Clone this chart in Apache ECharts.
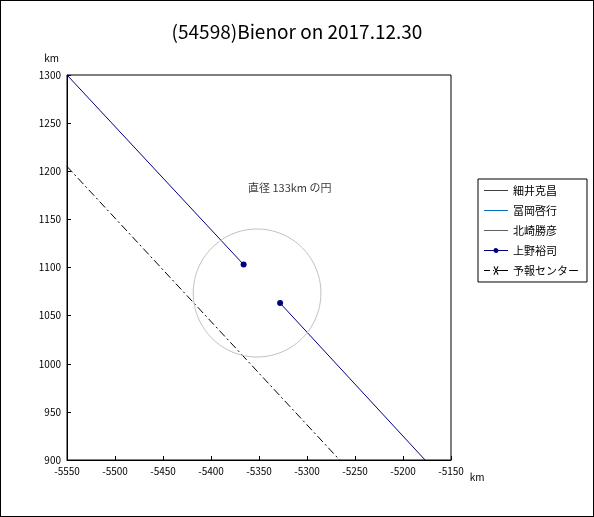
<!DOCTYPE html>
<html>
<head>
<meta charset="utf-8">
<script src="https://cdn.jsdelivr.net/npm/echarts@6/dist/echarts.min.js"></script>
<style>
html,body{margin:0;padding:0;background:#fff;}
#main{width:592px;height:515px;border:1px solid #000;}
</style>
</head>
<body>
<div id="main"></div>
<script>
var xTicks = [-5550, -5150];
var yTicks = [900, 1300];
// 上野裕司 (two segments)
var uenoA = [[-5550, 1300], [-5366, 1103]];
var uenoB = [[-5328, 1063], [-5177, 900]];
// 予報センター
var yohou = [[-5550, 1205], [-5266, 900]];
// 133km circle
var circleCenter = [-5352, 1073.5];
var circleRadius = 66.5;
var noteAt = [-5318, 1183];

var circle = [];
for (var i = 0; i <= 120; i++) {
	var a = i / 120 * Math.PI * 2;
	circle.push([circleCenter[0] + circleRadius * Math.cos(a), circleCenter[1] + circleRadius * Math.sin(a)]);
}

var lineIcon = 'path://M0,4.5H24V5.5H0Z';
var dotIcon = 'path://M0,4.5H9.5A2.6,2.6,0,0,1,14.5,4.5H24V5.5H14.5A2.6,2.6,0,0,1,9.5,5.5H0Z';
var dashIcon = 'path://M0,4.5H6V5.5H0ZM9,4.5H10V5.5H9ZM13,4.5H24V5.5H13ZM9.5,1.2L10.3,0.5L14.5,8.8L13.7,9.5ZM13.7,0.5L14.5,1.2L10.3,9.5L9.5,8.8Z';

var font = 'Noto Sans CJK JP';
var chart = echarts.init(document.getElementById('main'));
chart.setOption({
	animation: false,
	textStyle: { fontFamily: font },
	title: {
		text: '(54598)Bienor on 2017.12.30',
		left: 'center', top: 16,
		textStyle: { fontSize: 19, fontWeight: 'normal', color: '#000', fontFamily: font }
	},
	grid: { left: 66, right: 142, top: 74, bottom: 56, show: true, borderColor: '#000', borderWidth: 1 },
	legend: {
		orient: 'vertical', left: 477, top: 178,
		backgroundColor: '#fff', borderColor: '#000', borderWidth: 1,
		padding: [6, 8, 6, 6], itemGap: 9, itemWidth: 24, itemHeight: 10,
		textStyle: { fontSize: 11, color: '#000' },
		data: [
			{ name: '細井克昌', icon: lineIcon },
			{ name: '冨岡啓行', icon: lineIcon },
			{ name: '北崎勝彦', icon: lineIcon },
			{ name: '上野裕司', icon: dotIcon },
			{ name: '予報センター', icon: dashIcon }
		]
	},
	xAxis: {
		type: 'value', min: xTicks[0], max: xTicks[1], interval: 50,
		name: 'km', nameGap: 18, nameTextStyle: { fontSize: 10, verticalAlign: 'top', padding: [12, 0, 0, 0] },
		axisLine: { lineStyle: { color: '#000' } },
		axisTick: { inside: true, length: 4, lineStyle: { color: '#000' } },
		axisLabel: { fontSize: 10, color: '#000', margin: 6, formatter: function (v) { return String(v); } },
		splitLine: { show: false }
	},
	yAxis: {
		type: 'value', min: yTicks[0], max: yTicks[1], interval: 50,
		name: 'km', nameGap: 12, nameTextStyle: { fontSize: 10, align: 'right', padding: [0, 8, 0, 0] },
		axisLine: { lineStyle: { color: '#000' } },
		axisTick: { inside: true, length: 4, lineStyle: { color: '#000' } },
		axisLabel: { fontSize: 10, color: '#000', margin: 6, formatter: function (v) { return String(v); } },
		splitLine: { show: false }
	},
	series: [
		{ name: '細井克昌', type: 'line', data: [], symbol: 'none', lineStyle: { color: '#404040', width: 1 }, itemStyle: { color: '#404040' } },
		{ name: '冨岡啓行', type: 'line', data: [], symbol: 'none', lineStyle: { color: '#0070c0', width: 1 }, itemStyle: { color: '#0070c0' } },
		{ name: '北崎勝彦', type: 'line', data: [], symbol: 'none', lineStyle: { color: '#606060', width: 1 }, itemStyle: { color: '#606060' } },
		{ name: '上野裕司', type: 'line', showAllSymbol: true, symbolSize: 6,
			data: uenoA.map(function (p, i) { return { value: p, symbol: i === 1 ? 'circle' : 'none' }; }),
			lineStyle: { color: '#000080', width: 1 }, itemStyle: { color: '#000080' } },
		{ name: '上野裕司', type: 'line', showAllSymbol: true, symbolSize: 6,
			data: uenoB.map(function (p, i) { return { value: p, symbol: i === 0 ? 'circle' : 'none' }; }),
			lineStyle: { color: '#000080', width: 1 }, itemStyle: { color: '#000080' } },
		{ name: '予報センター', type: 'line', data: yohou, symbol: 'none',
			lineStyle: { color: '#000', width: 1, type: [8, 3, 2, 3] }, itemStyle: { color: '#000' } },
		{ name: 'circle', type: 'line', data: circle, symbol: 'none',
			lineStyle: { color: '#c0c0c0', width: 1 }, silent: true },
		{ name: 'note', type: 'scatter', data: [noteAt], symbolSize: 0,
			label: { show: true, formatter: '直径 133km の円', fontSize: 11, color: '#000', position: 'inside' } }
	]
});
</script>
</body>
</html>
